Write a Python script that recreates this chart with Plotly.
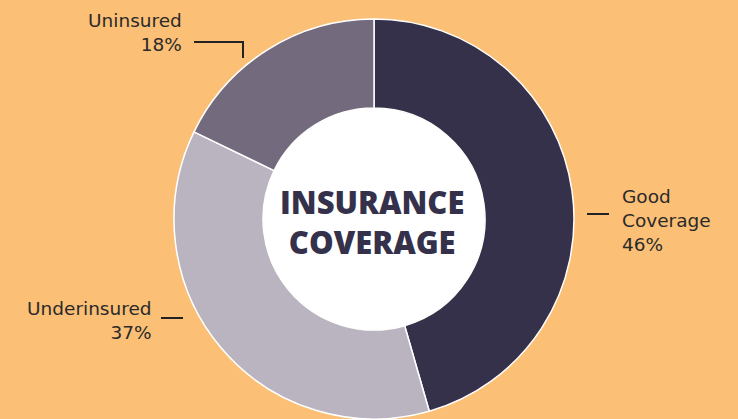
import plotly.graph_objects as go

labels = ["Good Coverage", "Underinsured", "Uninsured"]
values = [46, 37, 18]
colors = ["#35314b", "#b9b4c0", "#736a7e"]
title_lines = ["INSURANCE", "COVERAGE"]

W, H = 738, 419
BG = "#fbbf76"
TXT = "#2a2a2a"
HOLE = 0.555
CX, CY, R = 374, 219, 200

fig = go.Figure(go.Pie(
    labels=labels, values=values, hole=HOLE, sort=False, direction="clockwise",
    rotation=0, marker=dict(colors=colors, line=dict(color="white", width=1.5)),
    textinfo="none", hoverinfo="label+percent", showlegend=False,
    domain=dict(x=[(CX - R) / W, (CX + R) / W], y=[1 - (CY + R) / H, 1 - (CY - R) / H]),
))

def px(x):
    return x / W

def py(y):
    return 1 - y / H

font = dict(family="DejaVu Sans, sans-serif", size=18.5, color=TXT)
ann = []
ann.append(dict(x=px(184), y=py(32), xanchor="right", yanchor="middle", align="right",
                text=f"{labels[2]}<br>{values[2]}%", showarrow=False, font=font))
ann.append(dict(x=px(620), y=py(220), xanchor="left", yanchor="middle", align="left",
                text="Good<br>Coverage<br>" + f"{values[0]}%", showarrow=False, font=font))
ann.append(dict(x=px(154), y=py(320), xanchor="right", yanchor="middle", align="right",
                text=f"{labels[1]}<br>{values[1]}%", showarrow=False, font=font))
tfont = dict(family="Open Sans, sans-serif", size=31, color="#35314b", weight=800)
ann.append(dict(x=px(372), y=py(222), xanchor="center", yanchor="middle", align="center",
                text="<br>".join(title_lines), showarrow=False, font=tfont))

rh = HOLE * R
line = dict(color="#222222", width=2)
shapes = [
    dict(type="circle", xref="paper", yref="paper", layer="below",
         x0=px(CX - rh), x1=px(CX + rh), y0=py(CY + rh), y1=py(CY - rh),
         fillcolor="white", line=dict(width=0)),
    dict(type="path", xref="paper", yref="paper",
         path=f"M {px(194)} {py(42)} L {px(243)} {py(42)} L {px(243)} {py(58)}", line=line),
    dict(type="line", xref="paper", yref="paper", x0=px(587), x1=px(609), y0=py(214), y1=py(214), line=line),
    dict(type="line", xref="paper", yref="paper", x0=px(161), x1=px(183), y0=py(318), y1=py(318), line=line),
]

fig.update_layout(
    width=W, height=H, margin=dict(l=0, r=0, t=0, b=0),
    paper_bgcolor=BG, plot_bgcolor=BG, annotations=ann, shapes=shapes,
)
fig.write_html("out.html", config={"displayModeBar": False},
               post_script="document.body.style.margin='0';document.body.style.overflow='hidden';")
